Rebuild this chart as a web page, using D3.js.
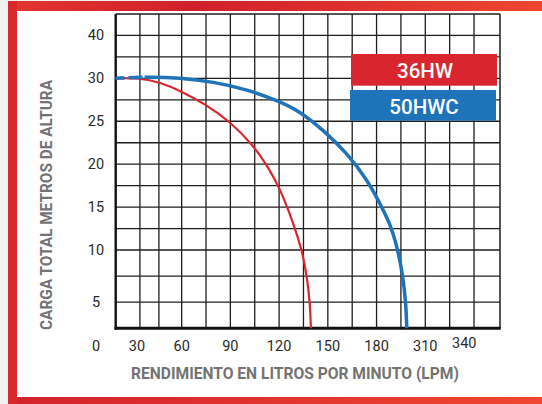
<!DOCTYPE html>
<html>
<head>
<meta charset="utf-8">
<script src="https://cdn.jsdelivr.net/npm/d3@7/dist/d3.min.js"></script>
<style>
  html, body { margin: 0; padding: 0; background: #f1f1f1; }
  svg { display: block; }
</style>
</head>
<body>
<svg id="chart" width="542" height="404"></svg>
<script>
// Pump performance curves: total head (m) versus flow (LPM)
const seriesNames = ["36HW", "50HWC"];
const seriesColors = ["#d9262e", "#1f73b9"];

// [flow LPM, head m]
const curve36HW = [
  [19.4, 30], [34.4, 30.05], [46.7, 29.52], [59, 28.59], [74.4, 27.01],
  [89.8, 24.97], [103.9, 22.23], [112.5, 19.9], [120.5, 17.22],
  [128.5, 13.26], [134.1, 10], [137.2, 7.41], [139, 4.92], [139.6, 2.5]
];
const curve50HWC = [
  [19.4, 30], [38.5, 30.19], [59, 30.07], [79.3, 29.6], [100.2, 28.73],
  [120.5, 27.3], [132.9, 26.13], [147, 24], [161.8, 21.29], [174.2, 18.18],
  [180.9, 15.85], [188.3, 13.13], [193.2, 10], [196.3, 7.41], [198.1, 4.86],
  [198.6, 2.5]
];

// axis ticks (printed labels as they appear on the sheet)
const xTickValues = [32.5, 60, 90, 120, 150, 180, 210, 234];
const xTickLabels = ["30", "60", "90", "120", "150", "180", "310", "340"];
const yTickValues = [35, 30, 25, 20, 15, 10, 5];
const yTickLabels = ["40", "30", "25", "20", "15", "10", "5"];
const originLabel = "0";

// grid positions
const xGridValues = [34.3, 46, 60, 75, 90, 105, 120, 135, 150, 165, 180, 195, 210, 225, 240];
const yGridValues = [5, 7.5, 10, 12.5, 15, 17.5, 20, 22.5, 25, 27.5, 30, 32.5, 35];

const xTitle = "RENDIMIENTO EN LITROS POR MINUTO (LPM)";
const yTitle = "CARGA TOTAL METROS DE ALTURA";

const svg = d3.select("#chart");
const W = 542, H = 404;
const plot = { left: 115.7, right: 500, top: 14, bottom: 328.3 };

const x = d3.scaleLinear().domain([19.4, 256]).range([plot.left, plot.right]);
const y = d3.scaleLinear().domain([2.5, 10, 37.5]).range([plot.bottom, 250, plot.top]);

// ---- frame ----
const defs = svg.append("defs");
const gTop = defs.append("linearGradient").attr("id", "gTop");
gTop.append("stop").attr("offset", "0%").attr("stop-color", "#e2362f");
gTop.append("stop").attr("offset", "35%").attr("stop-color", "#d0202b");
gTop.append("stop").attr("offset", "100%").attr("stop-color", "#ee4631");
const gBot = defs.append("linearGradient").attr("id", "gBot");
gBot.append("stop").attr("offset", "0%").attr("stop-color", "#d3222c");
gBot.append("stop").attr("offset", "100%").attr("stop-color", "#ef4731");

svg.append("rect").attr("x", 0).attr("y", 0).attr("width", W).attr("height", H).attr("fill", "#f1f1f1");
svg.append("rect").attr("x", 8).attr("y", 1).attr("width", W - 8).attr("height", H - 1).attr("fill", "#ffffff");
svg.append("rect").attr("x", 8).attr("y", 1).attr("width", W - 8).attr("height", 10).attr("fill", "url(#gTop)");
svg.append("rect").attr("x", 8).attr("y", 397).attr("width", W - 8).attr("height", 7).attr("fill", "url(#gBot)");
svg.append("rect").attr("x", 8).attr("y", 1).attr("width", 9).attr("height", H - 1).attr("fill", "#d8272e");

// ---- grid ----
const grid = svg.append("g").attr("stroke", "#1e1e1e").attr("stroke-width", 1.3);
grid.selectAll("line.v").data(xGridValues).join("line")
  .attr("x1", d => x(d)).attr("x2", d => x(d))
  .attr("y1", plot.top).attr("y2", plot.bottom);
grid.selectAll("line.h").data(yGridValues).join("line")
  .attr("x1", plot.left).attr("x2", plot.right)
  .attr("y1", d => y(d)).attr("y2", d => y(d));

// plot border
svg.append("line").attr("x1", plot.left).attr("x2", plot.right).attr("y1", plot.top).attr("y2", plot.top)
  .attr("stroke", "#1e1e1e").attr("stroke-width", 1.5);
svg.append("line").attr("x1", plot.right).attr("x2", plot.right).attr("y1", plot.top).attr("y2", plot.bottom)
  .attr("stroke", "#1e1e1e").attr("stroke-width", 1.5);
svg.append("line").attr("x1", plot.left).attr("x2", plot.left).attr("y1", plot.top).attr("y2", plot.bottom + 1.5)
  .attr("stroke", "#111").attr("stroke-width", 2.4);
svg.append("line").attr("x1", plot.left - 1.2).attr("x2", plot.right + 0.75).attr("y1", plot.bottom).attr("y2", plot.bottom)
  .attr("stroke", "#111").attr("stroke-width", 3);

// ---- curves ----
const line = d3.line().x(d => x(d[0])).y(d => y(d[1])).curve(d3.curveBasis);
svg.append("path").datum(curve36HW).attr("d", line)
  .attr("fill", "none").attr("stroke", seriesColors[0]).attr("stroke-width", 2.2);
svg.append("path").datum(curve50HWC).attr("d", line)
  .attr("fill", "none").attr("stroke", seriesColors[1]).attr("stroke-width", 3.5)
  .attr("stroke-dasharray", "9 4 14 2 2000");

// ---- legend ----
const legendBoxes = [
  { x: 351, y: 54, w: 146, h: 31.7 },
  { x: 350, y: 90, w: 146, h: 30.7 }
];
const legend = svg.append("g");
seriesNames.forEach((name, i) => {
  const b = legendBoxes[i];
  legend.append("rect").attr("x", b.x).attr("y", b.y).attr("width", b.w).attr("height", b.h)
    .attr("fill", seriesColors[i]);
  legend.append("text").attr("x", b.x + b.w / 2 + 1).attr("y", b.y + b.h / 2 + 1.5)
    .attr("text-anchor", "middle").attr("dominant-baseline", "central")
    .attr("fill", "#ffffff").attr("font-family", "Roboto, sans-serif")
    .attr("font-weight", 500).attr("font-size", 20.5).text(name);
});

// ---- tick labels ----
const tickFont = "Roboto, 'Open Sans', sans-serif";
svg.append("g").selectAll("text").data(yTickValues).join("text")
  .attr("x", 96).attr("y", d => y(d))
  .attr("text-anchor", "middle").attr("dominant-baseline", "central")
  .attr("font-family", tickFont).attr("font-size", 14.5).attr("fill", "#2b2b2b")
  .text((d, i) => yTickLabels[i]);

svg.append("g").selectAll("text").data(xTickValues).join("text")
  .attr("x", d => x(d)).attr("y", (d, i) => i === xTickValues.length - 1 ? 343 : 346.5)
  .attr("text-anchor", "middle").attr("dominant-baseline", "central")
  .attr("font-family", tickFont).attr("font-size", 14.5).attr("fill", "#2b2b2b")
  .text((d, i) => xTickLabels[i]);

svg.append("text").attr("x", 96).attr("y", 346.5)
  .attr("text-anchor", "middle").attr("dominant-baseline", "central")
  .attr("font-family", tickFont).attr("font-size", 14.5).attr("fill", "#2b2b2b")
  .text(originLabel);

// ---- axis titles ----
svg.append("text").attr("x", 295).attr("y", 373.5)
  .attr("text-anchor", "middle").attr("dominant-baseline", "central")
  .attr("font-family", "Roboto, sans-serif").attr("font-weight", 700).attr("font-size", 16.5)
  .attr("fill", "#737373").attr("textLength", 328).attr("lengthAdjust", "spacingAndGlyphs")
  .text(xTitle);

svg.append("text").attr("transform", "translate(46,205) rotate(-90)")
  .attr("text-anchor", "middle").attr("dominant-baseline", "central")
  .attr("font-family", "Roboto, sans-serif").attr("font-weight", 700).attr("font-size", 17)
  .attr("fill", "#737373").attr("textLength", 250).attr("lengthAdjust", "spacingAndGlyphs")
  .text(yTitle);
</script>
</body>
</html>
